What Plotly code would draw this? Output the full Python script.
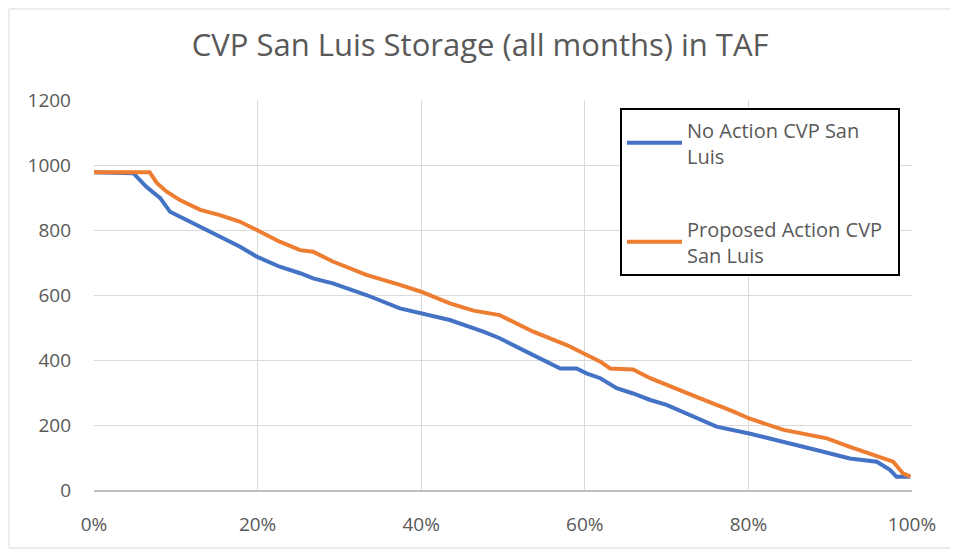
import plotly.graph_objects as go

# exceedance probability (%) and storage (TAF)
no_action_pct = [0, 4.8, 6.4, 8.1, 9.3, 10.5, 13.0, 15.4, 17.8, 19.9, 22.7, 25.2, 26.8,
                 29.2, 33.3, 37.4, 40.0, 43.5, 47.6, 49.6, 53.7, 57.0, 59.0, 60.2, 61.9,
                 63.9, 65.9, 68.0, 70.0, 74.1, 76.1, 80.1, 84.3, 88.3, 92.4, 95.7, 97.3,
                 98.1, 99.8]
no_action_taf = [978, 975, 933, 898, 856, 841, 810, 779, 749, 718, 687, 667, 651,
                 636, 600, 559, 544, 523, 487, 467, 415, 374, 374, 359, 344,
                 313, 297, 277, 262, 215, 195, 174, 149, 123, 97, 87, 62,
                 41, 41]

proposed_pct = [0, 6.8, 7.7, 8.9, 10.5, 13.0, 15.4, 17.8, 19.9, 22.7, 25.2, 26.8, 29.2,
                33.3, 37.4, 40.0, 43.5, 46.4, 49.6, 53.7, 57.8, 60.2, 61.9, 63.1, 65.9,
                68.0, 70.0, 74.1, 78.2, 80.1, 84.3, 89.6, 92.4, 96.5, 97.7, 98.9, 99.8]
proposed_taf = [978, 978, 944, 918, 892, 862, 846, 826, 800, 764, 738, 733, 703,
                662, 631, 610, 574, 552, 538, 487, 446, 415, 395, 374, 371,
                344, 323, 282, 241, 220, 185, 159, 133, 97, 87, 51, 41]

FONT = "Open Sans"
TXT = "#595959"
GRID = "#d9d9d9"

fig = go.Figure()

fig.add_trace(go.Scatter(
    x=no_action_pct, y=no_action_taf, mode="lines",
    name="No Action CVP San<br>Luis", legendgroup="a",
    line=dict(color="#4472C4", width=4),
))
fig.add_trace(go.Scatter(
    x=proposed_pct, y=proposed_taf, mode="lines",
    name="Proposed Action CVP\u00a0\u00a0<br>San Luis", legendgroup="b",
    line=dict(color="#ED7D31", width=4),
))

# page body has an 8px margin, so the figure is sized/offset to compensate
fig.update_layout(
    width=950, height=547,
    paper_bgcolor="white", plot_bgcolor="white",
    margin=dict(l=86, r=46, t=92, b=65),
    font=dict(family=FONT, size=19, color=TXT),
    title=dict(
        text="CVP San Luis Storage (all months) in TAF",
        font=dict(family=FONT, size=31, color=TXT),
        x=0.497, xref="container", xanchor="center",
        y=0.932, yref="container", yanchor="middle",
    ),
    legend=dict(
        x=0.643, y=0.979, xanchor="left", yanchor="top",
        bgcolor="white", bordercolor="black", borderwidth=2,
        font=dict(family=FONT, size=20, color=TXT),
        tracegroupgap=44, traceorder="grouped",
        itemwidth=55,
    ),
    shapes=[dict(
        type="rect", xref="paper", yref="paper",
        x0=-0.1039, x1=1.0477, y0=-0.1487, y1=1.2333,
        line=dict(color=GRID, width=1),
    )],
)

fig.update_xaxes(
    range=[0, 100], dtick=20, ticksuffix="%",
    showgrid=True, gridcolor=GRID, gridwidth=1,
    showline=True, linecolor="#bfbfbf", linewidth=1.5,
    zeroline=False, ticklabelstandoff=16,
)
fig.update_yaxes(
    range=[0, 1200], dtick=200,
    showgrid=True, gridcolor=GRID, gridwidth=1,
    showline=False, zeroline=False, ticklabelstandoff=22,
)

fig.write_html("out.html")
